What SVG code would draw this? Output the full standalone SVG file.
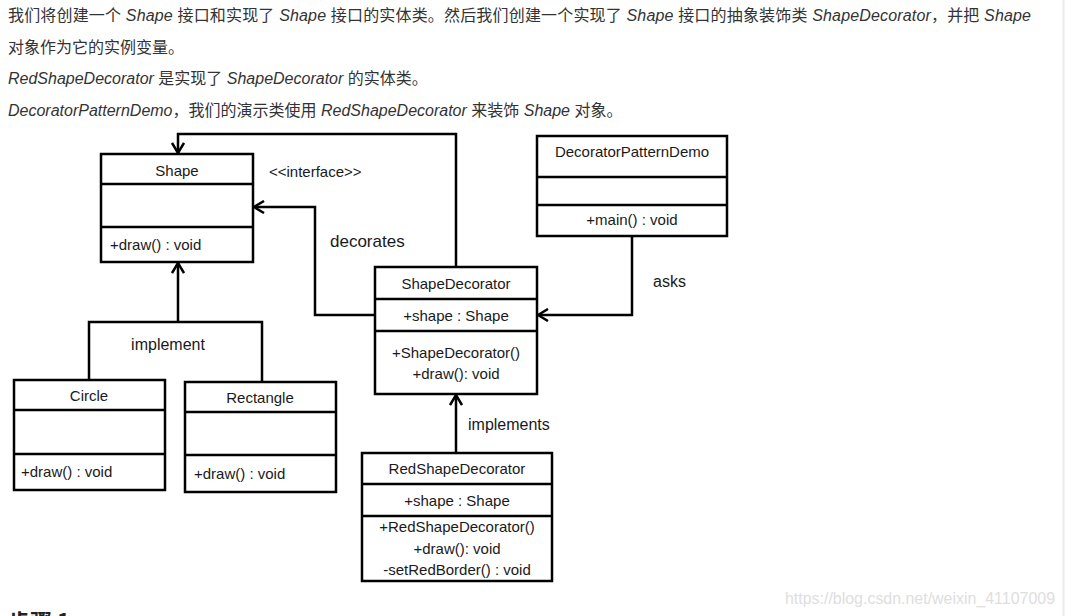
<svg xmlns="http://www.w3.org/2000/svg" width="1065" height="616" viewBox="0 0 1065 616">
<style>
.intro{font-family:"Liberation Sans","Noto Sans CJK SC",sans-serif;font-size:16px;fill:#333}
.it{font-style:italic}
.box{fill:#fff;stroke:#000;stroke-width:2.5}
.div{stroke:#000;stroke-width:2.5}
.t{font-family:"Liberation Sans",Arial,sans-serif;font-size:15px;fill:#1a1a1a}
.c{text-anchor:middle}
.lbl{font-family:"Liberation Sans",Arial,sans-serif;font-size:16px;fill:#1a1a1a}
.conn{fill:none;stroke:#000;stroke-width:2.5}
</style>
<defs>
<marker id="arr" viewBox="0 0 12 14" refX="11" refY="7" markerWidth="12" markerHeight="14" markerUnits="userSpaceOnUse" orient="auto">
<path d="M1,1 L11,7 L1,13" fill="none" stroke="#000" stroke-width="2.5"/>
</marker>
</defs>
<rect x="0" y="0" width="1065" height="616" fill="#fff"/>
<rect x="1063" y="0" width="2" height="616" fill="#f4f4f4"/>
<line x1="1063" y1="0" x2="1063" y2="616" stroke="#e6e6e6" stroke-width="1"/>

<g id="intro">
<text class="intro" x="8" y="21" textLength="1023" lengthAdjust="spacing">我们将创建一个 <tspan class="it">Shape</tspan> 接口和实现了 <tspan class="it">Shape</tspan> 接口的实体类。然后我们创建一个实现了 <tspan class="it">Shape</tspan> 接口的抽象装饰类 <tspan class="it">ShapeDecorator</tspan>，并把 <tspan class="it">Shape</tspan></text>
<text class="intro" x="8" y="53">对象作为它的实例变量。</text>
<text class="intro" x="8" y="84"><tspan class="it">RedShapeDecorator</tspan> 是实现了 <tspan class="it">ShapeDecorator</tspan> 的实体类。</text>
<text class="intro" x="8" y="116"><tspan class="it">DecoratorPatternDemo</tspan>，我们的演示类使用 <tspan class="it">RedShapeDecorator</tspan> 来装饰 <tspan class="it">Shape</tspan> 对象。</text>
</g>

<g id="connectors">
<polyline class="conn" points="456,267 456,134 178,134 178,153" marker-end="url(#arr)"/>
<polyline class="conn" points="375,315 315,315 315,207 254,207" marker-end="url(#arr)"/>
<polyline class="conn" points="632,236 632,315 538,315" marker-end="url(#arr)"/>
<polyline class="conn" points="89,380 89,322 262,322 262,382"/>
<line class="conn" x1="178" y1="322" x2="178" y2="263" marker-end="url(#arr)"/>
<line class="conn" x1="456" y1="453" x2="456" y2="395" marker-end="url(#arr)"/>
<text class="lbl" x="269" y="177" style="font-size:15px">&lt;&lt;interface&gt;&gt;</text>
<text class="lbl" x="330" y="247" style="font-size:17px">decorates</text>
<text class="lbl" x="653" y="287">asks</text>
<text class="lbl c" x="168" y="350">implement</text>
<text class="lbl" x="468" y="430">implements</text>
</g>

<g id="Shape">
<rect class="box" x="101" y="154" width="152" height="108"/>
<line class="div" x1="101" y1="184" x2="253" y2="184"/>
<line class="div" x1="101" y1="227" x2="253" y2="227"/>
<text class="t c" x="177" y="176">Shape</text>
<text class="t" x="110" y="250">+draw() : void</text>
</g>

<g id="ShapeDecorator">
<rect class="box" x="375" y="267" width="162" height="127"/>
<line class="div" x1="375" y1="299" x2="537" y2="299"/>
<line class="div" x1="375" y1="331" x2="537" y2="331"/>
<text class="t c" x="456" y="289">ShapeDecorator</text>
<text class="t c" x="456" y="321">+shape : Shape</text>
<text class="t c" x="456" y="358">+ShapeDecorator()</text>
<text class="t c" x="456" y="379">+draw(): void</text>
</g>

<g id="DecoratorPatternDemo">
<rect class="box" x="537" y="136" width="190" height="100"/>
<line class="div" x1="537" y1="177" x2="727" y2="177"/>
<line class="div" x1="537" y1="205" x2="727" y2="205"/>
<text class="t c" x="632" y="157">DecoratorPatternDemo</text>
<text class="t c" x="632" y="225">+main() : void</text>
</g>

<g id="Circle">
<rect class="box" x="14" y="380" width="151" height="110"/>
<line class="div" x1="14" y1="410" x2="165" y2="410"/>
<line class="div" x1="14" y1="454" x2="165" y2="454"/>
<text class="t c" x="89" y="401">Circle</text>
<text class="t" x="21" y="477">+draw() : void</text>
</g>

<g id="Rectangle">
<rect class="box" x="185" y="382" width="151" height="110"/>
<line class="div" x1="185" y1="412" x2="336" y2="412"/>
<line class="div" x1="185" y1="455" x2="336" y2="455"/>
<text class="t c" x="260" y="403">Rectangle</text>
<text class="t" x="194" y="479">+draw() : void</text>
</g>

<g id="RedShapeDecorator">
<rect class="box" x="362" y="453" width="190" height="128"/>
<line class="div" x1="362" y1="484" x2="552" y2="484"/>
<line class="div" x1="362" y1="516" x2="552" y2="516"/>
<text class="t c" x="457" y="474">RedShapeDecorator</text>
<text class="t c" x="457" y="506">+shape : Shape</text>
<text class="t c" x="457" y="532">+RedShapeDecorator()</text>
<text class="t c" x="457" y="554">+draw(): void</text>
<text class="t c" x="457" y="575">-setRedBorder() : void</text>
</g>

<text x="785" y="604" textLength="270" lengthAdjust="spacingAndGlyphs" style="font-family:'Liberation Sans',Arial,sans-serif;font-size:16px;fill:#dedede">https://blog.csdn.net/weixin_41107009</text>
<text x="8" y="630" style="font-family:'Noto Sans CJK SC',sans-serif;font-size:22px;font-weight:bold;fill:#222">步骤 1</text>
</svg>
